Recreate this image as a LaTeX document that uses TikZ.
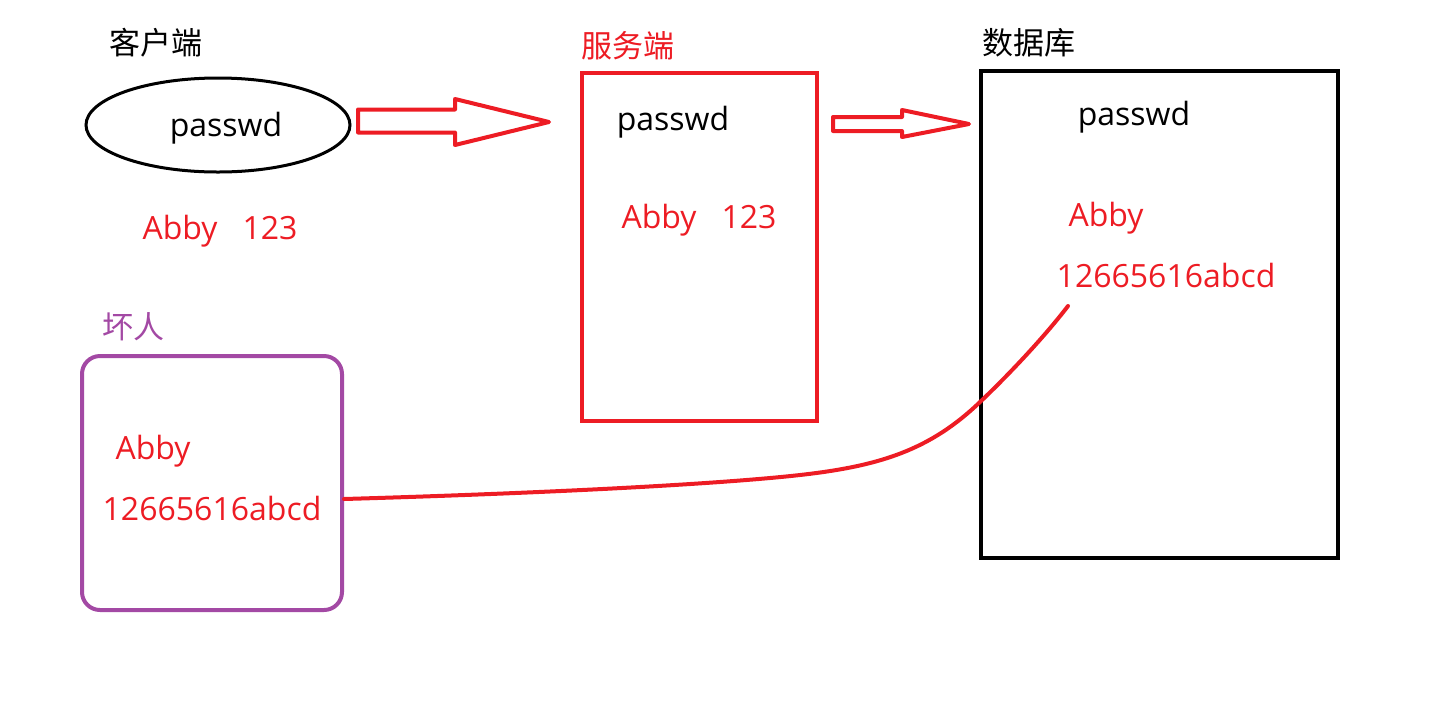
\documentclass[tikz,border=0pt]{standalone}
\usepackage{fontspec}
\setmainfont{Open Sans}
\newfontfamily\cjk{Noto Sans CJK SC}
\usepackage{tikz}
\usetikzlibrary{shapes.geometric}
\definecolor{pred}{RGB}{237,28,36}
\definecolor{ppurple}{RGB}{163,73,164}

\begin{document}
\begin{tikzpicture}[x=1pt, y=-1pt,
  txt/.style={inner sep=0pt, font=\fontsize{32}{38}\selectfont},
  hanzi/.style={inner sep=0pt, font=\cjk\fontsize{31}{36}\selectfont},
  box/.style={draw, line width=4pt, inner sep=0pt}]
\useasboundingbox (0,0) rectangle (1431,716);

% client
\node[hanzi] (clientlbl) at (156,43) {客户端};
\node[draw, ellipse, line width=3pt, minimum width=264, minimum height=94] (client) at (218,125) {};
\node[txt] (clientpw) at (226,128) {passwd};
\node[txt, pred] (clientuser) at (220,231) {Abby~~~123};

% server
\node[hanzi, pred] (serverlbl) at (628,46) {服务端};
\node[box, pred, minimum width=235, minimum height=348] (server) at (699.5,247) {};
\node[txt] (serverpw) at (673,122) {passwd};
\node[txt, pred] (serveruser) at (699,220) {Abby~~~123};

% database
\node[hanzi] (dblbl) at (1029,43) {数据库};
\node[box, black, minimum width=357, minimum height=487] (db) at (1159.5,314.5) {};
\node[txt] (dbpw) at (1134,117) {passwd};
\node[txt, pred] (dbuser) at (1106,218) {Abby};
\node[txt, pred] (dbhash) at (1166,275) {12665616abcd};
\coordinate (leak) at (1068,306);

% bad guy
\node[hanzi, ppurple] (badlbl) at (133,327) {坏人};
\node[box, ppurple, rounded corners=18, minimum width=260, minimum height=254] (bad) at (212,483) {};
\node[txt, pred] (baduser) at (153,451) {Abby};
\node[txt, pred] (badhash) at (212,508) {12665616abcd};
\coordinate (steal) at ([yshift=-16pt]bad.east);

% arrows
\draw[line width=4pt, pred, line join=round] (358,109.5) -- (455,109.5) -- (455,99) -- (549,122)
  -- (455,145) -- (455,132.5) -- (358,132.5) -- cycle;
\draw[line width=4pt, pred, line join=round] (833,117) -- (902,117) -- (902,110) -- (969,124)
  -- (902,137) -- (902,131) -- (833,131) -- cycle;

\draw[line width=4pt, pred, line cap=round] (steal) .. controls (550,493) and (720,484) .. (800,475)
  .. controls (880,466) and (930,450) .. (980,402)
  .. controls (1010,373.5) and (1045,336) .. (leak);

\end{tikzpicture}
\end{document}
